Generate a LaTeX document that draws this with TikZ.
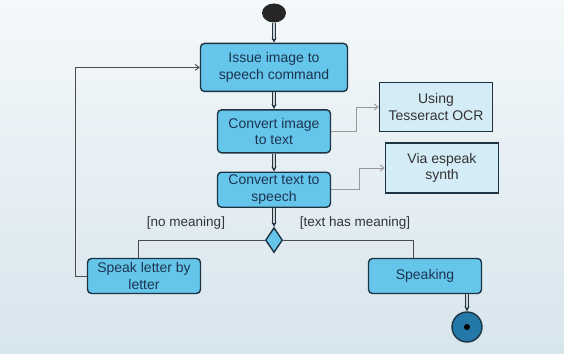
\documentclass[tikz,border=0pt]{standalone}
\usepackage{fontspec}
\setmainfont{Liberation Sans}
\usetikzlibrary{shapes.geometric, arrows.meta, positioning, calc}
\definecolor{bgtop}{HTML}{F4F8FA}
\definecolor{bgbottom}{HTML}{D7E5ED}
\definecolor{actfill}{HTML}{66C5EA}
\definecolor{notefill}{HTML}{D4ECF6}
\definecolor{edgedark}{HTML}{1E3442}
\definecolor{textdark}{HTML}{1B3550}
\definecolor{endfill}{HTML}{2479A8}
\tikzset{
    base/.style={draw=edgedark, line width=1.4pt, align=center, text=textdark, font=\fontsize{14}{16.5}\selectfont},
    activity/.style={base, rectangle, rounded corners=4pt, fill=actfill, minimum width=113pt, minimum height=43pt, inner ysep=1pt},
    note/.style={base, rectangle, fill=notefill, line width=1.2pt, minimum width=113pt, minimum height=49pt, text=black!80},
    decision/.style={base, diamond, fill=actfill, minimum width=17pt, minimum height=25pt, inner sep=0pt},
    startnode/.style={ellipse, fill=black!85, minimum width=24pt, minimum height=19pt, inner sep=0pt},
    endnode/.style={circle, draw=edgedark, line width=1.4pt, fill=endfill, minimum size=30pt, inner sep=0pt},
    guard/.style={font=\fontsize{13.5}{16}\selectfont, text=black!80, inner sep=1pt},
    flow/.style={draw=edgedark, line width=0.9pt, double=gray!35, double distance=1.5pt, -{Stealth[length=5pt,width=5pt]}},
    branch/.style={draw=black!70, line width=0.9pt},
    link/.style={draw=gray!80, line width=0.9pt, -{Straight Barb[length=4pt,width=6pt]}}
}
\begin{document}
\begin{tikzpicture}[x=1pt, y=-1pt]
    \useasboundingbox (0,0) rectangle (564,353);
    \fill[top color=bgtop, bottom color=bgbottom] (0,0) rectangle (564,353);

    % main column
    \node (start) [startnode] at (274,13) {};
    \node (issue) [activity, minimum width=147pt, minimum height=48pt, below=20pt of start] {Issue image to\\speech command};
    \node (convert) [activity, below=17pt of issue] {Convert image\\to text};
    \node (speech) [activity, minimum height=35pt, below=18pt of convert] {Convert text to\\speech};
    \node (check) [decision, below=19pt of speech] {};

    % branches
    \node (speak) [activity, minimum height=35pt] at (144,276) {Speak letter by\\letter};
    \node (speaking) [activity, minimum height=35pt] at (425,276) {Speaking};
    \node (stop) [endnode] at (467,327) {};
    \fill[black] (stop) circle (3pt);

    % notes
    \node (ocr) [note] at (436,107) {Using\\Tesseract OCR};
    \node (synth) [note, minimum height=50pt] at (442,168) {Via espeak\\synth};

    % guards
    \node (nomean) [guard] at (186,223) {[no meaning]};
    \node (hasmean) [guard] at (355,223) {[text has meaning]};

    \draw [flow] (start) -- (issue);
    \draw [flow] (issue) -- (convert);
    \draw [flow] (convert) -- (speech);
    \draw [flow] (speech) -- (check);
    \draw [flow] ([xshift=42pt]speaking.south) -- (stop);

    \draw [branch] (check.west) -| ([xshift=-6pt]speak.north);
    \draw [branch] (check.east) -| ([xshift=-12pt]speaking.north);
    \draw [branch, -{Straight Barb[length=4pt,width=6pt]}] (speak.west) -- ++(-11pt,0) |- (issue.west);

    \draw [link] (convert.east) -- ++(25pt,0) |- (ocr.west);
    \draw [link] (speech.east) -- ++(28pt,0) |- (synth.west);
\end{tikzpicture}
\end{document}
